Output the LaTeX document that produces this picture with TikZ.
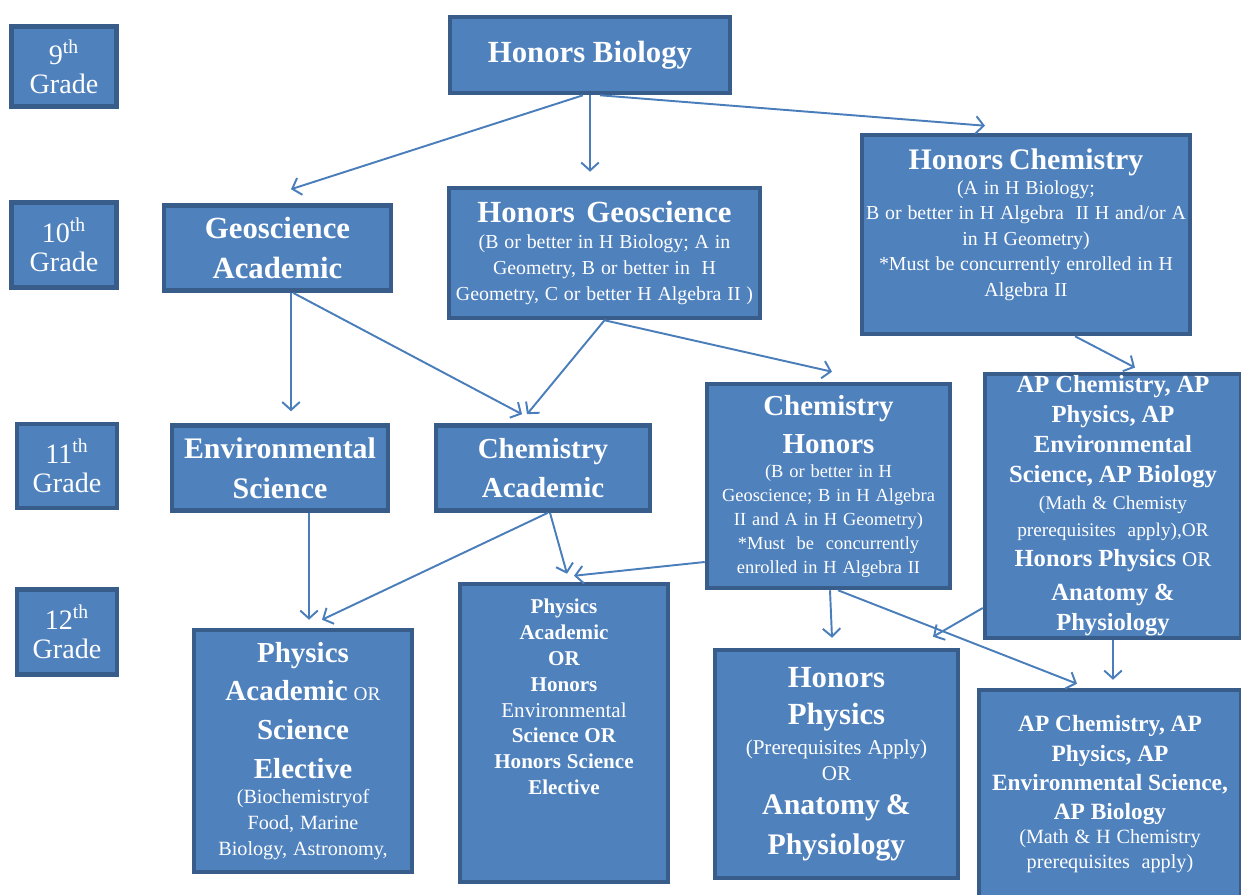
\documentclass[tikz,border=0pt]{standalone}
\usepackage{fontspec}
\setmainfont{Liberation Serif}
\usepackage{tikz}
\usetikzlibrary{positioning,calc,arrows.meta}

\definecolor{boxfill}{RGB}{79,129,189}
\definecolor{boxedge}{RGB}{56,93,138}
\definecolor{linkblue}{RGB}{74,126,187}

\begin{document}
\begin{tikzpicture}[x=0.02cm, y=-0.02cm,
    box/.style={draw=boxedge, fill=boxfill, line width=2.6pt, text=white, align=center, inner sep=1pt},
    grade/.style={box, text width=1.9cm, font=\fontsize{16}{16.5}\selectfont},
    link/.style={draw=linkblue, line width=1.1pt, -{Straight Barb[length=4.5pt,width=10pt]}}]

    \useasboundingbox (0,0) rectangle (1241,895);

    \node [grade, minimum width=2.1cm, minimum height=1.6cm] (g9) at (64,66.5) {9\textsuperscript{th}\\Grade\par};
    \node [grade, minimum width=2.1cm, minimum height=1.7cm] (g10) at (64,245) {10\textsuperscript{th}\\Grade\par};
    \node [grade, minimum width=2.0cm, minimum height=1.68cm] (g11) at (67,466) {11\textsuperscript{th}\\Grade\par};
    \node [grade, minimum width=2.0cm, minimum height=1.7cm] (g12) at (67,632) {12\textsuperscript{th}\\Grade\par};

    \node [box, minimum width=5.6cm, minimum height=1.52cm] (hbio) at (590,55)
        {\fontsize{17.5}{21}\selectfont\bfseries Honors Biology};
    \node [box, minimum width=4.54cm, minimum height=1.7cm, text width=4.4cm] (geoac) at (277.5,248)
        {\fontsize{17.5}{22.7}\selectfont\bfseries Geoscience\\Academic\par};
    \node [box, minimum width=6.22cm, minimum height=2.6cm, text width=6.1cm] (hgeo) at (604.5,253)
        {\fontsize{17.5}{21}\selectfont\bfseries Honors~ Geoscience\par
         \fontsize{11.3}{14.7}\selectfont\mdseries (B or better in H Biology; A in\\Geometry, B or better in~~H\\Geometry, C or better H Algebra II )\par};
    \node [box, minimum width=6.56cm, minimum height=3.98cm, text width=6.4cm] (hchem) at (1026,234.5)
        {\fontsize{17}{21}\selectfont\bfseries Honors Chemistry\par
         \fontsize{11.3}{14.5}\selectfont\mdseries (A in H Biology;\\B or better in H Algebra~ II H and/or A\\in H Geometry)\\{*}Must be concurrently enrolled in H\\Algebra II\par
         \vskip0.4cm\hrule height0pt};

    \node [box, minimum width=4.32cm, minimum height=1.7cm, text width=4.2cm] (envsci) at (280,468)
        {\fontsize{17}{22.7}\selectfont\bfseries Environmental\\Science\par};
    \node [box, minimum width=4.28cm, minimum height=1.7cm, text width=4.2cm] (chemac) at (543,468)
        {\fontsize{16.5}{22}\selectfont\bfseries Chemistry\\Academic\par};
    \node [box, minimum width=4.86cm, minimum height=4.08cm, text width=4.75cm] (chemhon) at (828.5,486)
        {\fontsize{16.5}{22}\selectfont\bfseries Chemistry\\Honors\par
         \fontsize{10.5}{13.6}\selectfont\mdseries (B or better in H\\Geoscience; B in H Algebra\\II and A in H Geometry)\\{*}Must~ be~ concurrently\\enrolled in H Algebra II\par};
    \node [box, minimum width=5.12cm, minimum height=5.28cm, text width=5cm] (aptop) at (1113,506)
        {\fontsize{14}{17}\selectfont\bfseries AP Chemistry, AP\\Physics, AP\\Environmental\\Science, AP Biology\par
         \fontsize{11}{15.3}\selectfont\mdseries (Math \& Chemisty\\prerequisites~ apply),OR\par
         \fontsize{14}{17.5}\selectfont\bfseries Honors Physics {\mdseries\fontsize{12}{17.5}\selectfont OR}\\[1.5pt]Anatomy \&\\Physiology\par};

    \node [box, minimum width=4.36cm, minimum height=4.84cm, text width=4.2cm] (phyac) at (303,751)
        {\fontsize{16.5}{22}\selectfont\bfseries Physics\\Academic{\mdseries\fontsize{11}{22}\selectfont\ OR}\\Science\\Elective\par
         \fontsize{11.5}{14.7}\selectfont\mdseries (Biochemistryof\\Food, Marine\\Biology, Astronomy,\par};
    \node [box, minimum width=4.16cm, minimum height=5.96cm, text width=4cm] (phyhon) at (564,733)
        {\fontsize{12}{14.7}\selectfont\bfseries Physics\\Academic\\OR\\Honors\\{\mdseries Environmental}\\Science OR\\Honors Science\\Elective\par
         \vskip1.44cm\hrule height0pt};
    \node [box, minimum width=4.86cm, minimum height=4.56cm, text width=4.75cm] (hphys) at (836.5,764)
        {\fontsize{17.5}{21.5}\selectfont\bfseries Honors\\Physics\par
         \fontsize{12}{17}\selectfont\mdseries (Prerequisites Apply)\par
         \fontsize{12}{14.7}\selectfont OR\par
         \fontsize{17}{19.5}\selectfont\bfseries Anatomy \&\\[3pt]Physiology\par};
    \node [box, minimum width=5.24cm, minimum height=4.16cm, text width=5.1cm] (apbot) at (1110,794)
        {\fontsize{13.3}{16.7}\selectfont\bfseries AP Chemistry, AP\\Physics, AP\\Environmental Science,\\AP Biology\par
         \fontsize{11.5}{13.8}\selectfont\mdseries (Math \& H Chemistry\\prerequisites~ apply)\par};

    \draw [link] ($(hbio.south)+(-7,0)$) -- ($(geoac.north)+(13.5,-14)$);
    \draw [link] (hbio.south) -- ($(hgeo.north)+(-14.5,-14)$);
    \draw [link] ($(hbio.south)+(10,0)$) -- ($(hchem.north)+(-41,-7)$);
    \draw [link] ($(geoac.south)+(13.5,0)$) -- ($(envsci.north)+(11,-12)$);
    \draw [link] ($(geoac.south)+(15.5,0)$) -- ($(chemac.north)+(-21,-9)$);
    \draw [link] (hgeo.south) -- ($(chemac.north)+(-16,-9)$);
    \draw [link] (hgeo.south) -- ($(chemhon.north)+(3.5,-10)$);
    \draw [link] ($(hchem.south)+(49,0)$) -- ($(aptop.north)+(22,-4)$);
    \draw [link] ($(envsci.south)+(29,0)$) -- ($(phyac.north)+(6,-8)$);
    \draw [link] ($(chemac.south)+(5,0)$) -- ($(phyac.north)+(19,-8)$);
    \draw [link] ($(chemac.south)+(7,0)$) -- ($(phyhon.north)+(3,-8)$);
    \draw [link] ($(chemhon.west)+(0,76)$) -- ($(phyhon.north)+(10,-6)$);
    \draw [link] ($(chemhon.south)+(1.5,0)$) -- ($(hphys.north)+(-4.5,-10)$);
    \draw [link] ($(chemhon.south)+(9.5,0)$) -- ($(apbot.north)+(-33,-4)$);
    \draw [link] ($(aptop.west)+(0,102)$) -- ($(hphys.north)+(96.5,-11)$);
    \draw [link] (aptop.south) -- ($(apbot.north)+(3,-8)$);
\end{tikzpicture}
\end{document}
